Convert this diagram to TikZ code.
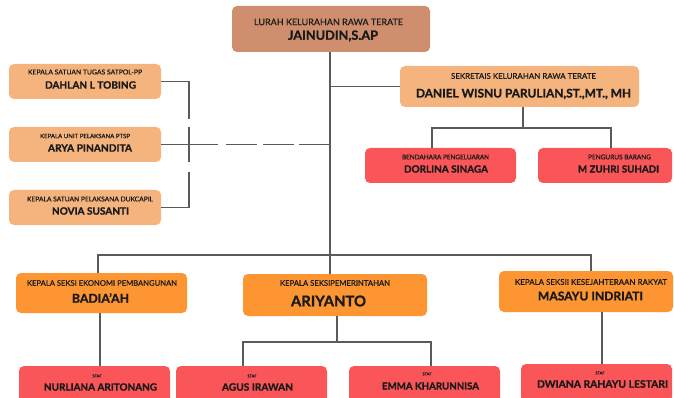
\documentclass[tikz,border=0pt]{standalone}
\usepackage{fontspec}
\setmainfont{Lato}
\newfontfamily\medfont[FakeBold=0.5]{Lato}
\newfontfamily\heavyfont[FakeBold=1.2]{Lato Bold}
\usepackage{graphicx}
\usetikzlibrary{calc}
\definecolor{cbrown}{HTML}{CF8F6E}
\definecolor{clight}{HTML}{F5B47D}
\definecolor{corange}{HTML}{FD9632}
\definecolor{cred}{HTML}{FA5558}
\definecolor{ctext}{HTML}{1A1A1A}
\definecolor{cline}{HTML}{5A5A5A}
\newcommand{\fitto}[2]{\resizebox{#1pt}{!}{#2}}
\tikzset{
  box/.style={rounded corners=5pt, inner sep=0pt, outer sep=0pt, draw=none},
  boxbrown/.style={box, fill=cbrown},
  boxlight/.style={box, fill=clight},
  boxorange/.style={box, fill=corange},
  boxred/.style={box, fill=cred},
  small/.style={inner sep=0pt, text=ctext, font=\medfont},
  big/.style={inner sep=0pt, text=ctext, font=\heavyfont},
  conn/.style={draw=cline, line width=1.1pt},
}
\begin{document}
\begin{tikzpicture}[x=1pt,y=-1pt]
\useasboundingbox (0,0) rectangle (674,398);
\clip (0,0) rectangle (674,398);
\fill[white] (0,0) rectangle (674,398);

% top
\node[boxbrown, minimum width=198pt, minimum height=46pt] (lurah) at (331,29) {};
\node[small] (lurah1) at (328.5,22) {\fitto{149}{LURAH KELURAHAN RAWA TERATE}};
\node[big] (lurah2) at (333,36) {\fitto{90}{JAINUDIN,S.AP}};

% left column
\node[boxlight, minimum width=152pt, minimum height=35pt] (satpol) at (85,81.5) {};
\node[small] (satpol1) at (85,72) {\fitto{114}{KEPALA SATUAN TUGAS SATPOL-PP}};
\node[big] (satpol2) at (90.5,85) {\fitto{91}{DAHLAN L TOBING}};

\node[boxlight, minimum width=152pt, minimum height=35pt] (ptsp) at (85,144.5) {};
\node[small] (ptsp1) at (85,136) {\fitto{90}{KEPALA UNIT PELAKSANA PTSP}};
\node[big] (ptsp2) at (90,148) {\fitto{84}{ARYA PINANDITA}};

\node[boxlight, minimum width=152pt, minimum height=35pt] (dukcapil) at (85,207.5) {};
\node[small] (dukcapil1) at (90,199) {\fitto{126}{KEPALA SATUAN PELAKSANA DUKCAPIL}};
\node[big] (dukcapil2) at (90.5,211) {\fitto{77}{NOVIA SUSANTI}};

% secretary
\node[boxlight, minimum width=239pt, minimum height=41pt] (sekr) at (519.5,86.5) {};
\node[small] (sekr1) at (523.5,76) {\fitto{145}{SEKRETAIS KELURAHAN RAWA TERATE}};
\node[big] (sekr2) at (523.5,94) {\fitto{215}{DANIEL WISNU PARULIAN,ST.,MT., MH}};

\node[boxred, minimum width=151pt, minimum height=35pt] (dorlina) at (440.5,165.5) {};
\node[small] (dorlina1) at (445.5,157) {\fitto{87}{BENDAHARA PENGELUARAN}};
\node[big] (dorlina2) at (446,169) {\fitto{84}{DORLINA SINAGA}};

\node[boxred, minimum width=134pt, minimum height=35pt] (zuhri) at (605,165.5) {};
\node[small] (zuhri1) at (619.5,157) {\fitto{63}{PENGURUS BARANG}};
\node[big] (zuhri2) at (618.5,169) {\fitto{81}{M ZUHRI SUHADI}};

% sections
\node[boxorange, minimum width=171pt, minimum height=40pt] (badiaah) at (101.5,293) {};
\node[small] (badiaah1) at (102,283) {\fitto{150}{KEPALA SEKSI EKONOMI PEMBANGUNAN}};
\node[big] (badiaah2) at (100.5,298) {\fitto{57}{BADIA’AH}};

\node[boxorange, minimum width=184pt, minimum height=42pt] (ariyanto) at (335,295) {};
\node[small] (ariyanto1) at (335,283) {\fitto{110}{KEPALA SEKSIPEMERINTAHAN}};
\node[big] (ariyanto2) at (328.5,301) {\fitto{75}{ARIYANTO}};

\node[boxorange, minimum width=174pt, minimum height=41pt] (masayu) at (586,291.5) {};
\node[small] (masayu1) at (591,282) {\fitto{152}{KEPALA SEKSII KESEJAHTERAAN RAKYAT}};
\node[big] (masayu2) at (590.5,296) {\fitto{105}{MASAYU INDRIATI}};

% staff
\node[boxred, minimum width=151pt, minimum height=38pt] (nurliana) at (94.5,385) {};
\node[small] (nurliana1) at (97,376) {\fitto{9}{STAF}};
\node[big] (nurliana2) at (100.5,387) {\fitto{113}{NURLIANA ARITONANG}};

\node[boxred, minimum width=151pt, minimum height=38pt] (agus) at (251.5,385) {};
\node[small] (agus1) at (252,376) {\fitto{9}{STAF}};
\node[big] (agus2) at (257.5,387) {\fitto{71}{AGUS IRAWAN}};

\node[boxred, minimum width=151pt, minimum height=38pt] (emma) at (424.5,385) {};
\node[small] (emma1) at (427,374) {\fitto{9}{STAF}};
\node[big] (emma2) at (430.5,386) {\fitto{97}{EMMA KHARUNNISA}};

\node[boxred, minimum width=151pt, minimum height=38pt] (dwiana) at (596.5,383) {};
\node[small] (dwiana1) at (600,373) {\fitto{9}{STAF}};
\node[big] (dwiana2) at (602.5,384) {\fitto{131}{DWIANA RAHAYU LESTARI}};

% connectors
\coordinate (tx) at (330,0);
\coordinate (bx) at (189,0);
\draw[conn] (lurah.south -| tx) -- (ariyanto.north -| tx);
\draw[conn] (tx |- sekr.west) -- (sekr.west);
\draw[conn, dash pattern=on 65.5pt off 8pt on 35pt off 10pt on 63.5pt]
  (satpol.east) -- (bx |- satpol.east) -- (bx |- dukcapil.east) -- (dukcapil.east);
\draw[conn, dash pattern=on 57pt off 8pt on 31pt off 6pt on 31pt off 5pt on 31pt]
  (ptsp.east) -- (tx |- ptsp.east);

\draw[conn] ($(sekr.south)+(3.5,0)$) -- ($(sekr.south)+(3.5,21)$);
\draw[conn] ($(dorlina.north)+(-8.5,0)$) |- ($(zuhri.north)+(6,-20)$) -- ($(zuhri.north)+(6,0)$);

\draw[conn] ($(badiaah.north)+(-3.5,0)$) |- ($(masayu.north)+(5,-16)$) -- ($(masayu.north)+(5,0)$);
\draw[conn] ($(badiaah.south)+(-1.5,0)$) -- ($(nurliana.north)+(5.5,0)$);
\draw[conn] ($(ariyanto.south)+(2,0)$) -- ($(ariyanto.south)+(2,26)$);
\draw[conn] ($(agus.north)+(-8.5,0)$) |- ($(emma.north)+(6.5,-24)$) -- ($(emma.north)+(6.5,0)$);
\draw[conn] ($(masayu.south)+(16,0)$) -- ($(dwiana.north)+(5.5,0)$);
\end{tikzpicture}
\end{document}
